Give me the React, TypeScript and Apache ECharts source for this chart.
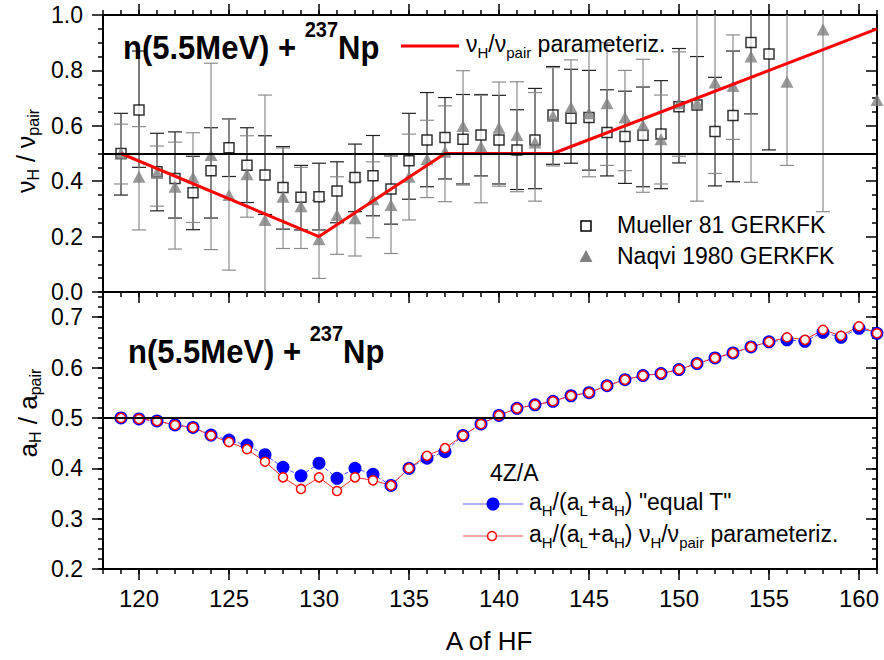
import React, { useEffect, useRef } from "react";
import * as echarts from "echarts";

const FONT = "'Liberation Sans', Arial, Helvetica, sans-serif";

// ---- upper panel: measured nu_H / nu_pair ----
const muellerA = [119, 120, 121, 122, 123, 124, 125, 126, 127, 128, 129, 130, 131, 132, 133, 134, 135, 136, 137, 138, 139, 140, 141, 142, 143, 144, 145, 146, 147, 148, 149, 150, 151, 152, 153, 154, 155];
const muellerV = [0.5, 0.657, 0.434, 0.41, 0.358, 0.438, 0.521, 0.458, 0.422, 0.377, 0.342, 0.344, 0.365, 0.413, 0.42, 0.372, 0.474, 0.549, 0.558, 0.551, 0.567, 0.549, 0.513, 0.549, 0.639, 0.627, 0.63, 0.576, 0.561, 0.566, 0.57, 0.669, 0.675, 0.579, 0.637, 0.901, 0.859];
const muellerLo = [0.35, 0.45, 0.293, 0.267, 0.225, 0.267, 0.417, 0.323, 0.28, 0.227, 0.224, 0.224, 0.25, 0.29, 0.275, 0.245, 0.335, 0.38, 0.408, 0.39, 0.419, 0.39, 0.37, 0.373, 0.461, 0.465, 0.44, 0.419, 0.392, 0.38, 0.373, 0.466, 0.5, 0.383, 0.398, 0.643, 0.513];
const muellerHi = [0.645, 0.87, 0.573, 0.578, 0.49, 0.593, 0.625, 0.593, 0.564, 0.525, 0.457, 0.465, 0.47, 0.534, 0.565, 0.495, 0.645, 0.72, 0.702, 0.713, 0.713, 0.71, 0.658, 0.735, 0.814, 0.804, 0.8, 0.73, 0.725, 0.74, 0.763, 0.879, 0.85, 0.775, 0.87, 1.16, 1.2];

const naqviA = [119, 120, 121, 122, 123, 124, 125, 126, 127, 128, 129, 130, 131, 132, 133, 134, 135, 136, 137, 138, 139, 140, 141, 142, 143, 144, 145, 146, 147, 148, 149, 150, 151, 152, 153, 154, 156, 158, 161];
const naqviV = [0.5, 0.416, 0.43, 0.38, 0.413, 0.495, 0.35, 0.425, 0.26, 0.344, 0.31, 0.19, 0.278, 0.266, 0.335, 0.314, 0.416, 0.479, 0.506, 0.599, 0.525, 0.593, 0.567, 0.54, 0.635, 0.667, 0.645, 0.681, 0.63, 0.602, 0.551, 0.681, 0.681, 0.756, 0.744, 0.85, 0.759, 0.948, 0.693];
const naqviLo = [0.39, 0.224, 0.31, 0.155, 0.251, 0.153, 0.079, 0.27, -0.19, 0.157, 0.157, 0.049, 0.136, 0.13, 0.196, 0.139, 0.26, 0.341, 0.326, 0.386, 0.322, 0.382, 0.362, 0.328, 0.455, 0.5, 0.416, 0.457, 0.438, 0.36, 0.39, 0.49, 0.328, 0.428, 0.551, 0.396, 0.457, 0.29, 0.693];
const naqviHi = [0.606, 0.597, 0.527, 0.541, 0.575, 0.826, 0.625, 0.564, 0.711, 0.52, 0.45, 0.331, 0.416, 0.4, 0.47, 0.49, 0.57, 0.62, 0.672, 0.799, 0.71, 0.758, 0.759, 0.72, 0.81, 0.838, 0.87, 0.9, 0.8, 0.84, 0.711, 0.867, 1.04, 1.08, 0.928, 1.3, 1.06, 1.6, 0.693];

// piecewise-linear nu_H / nu_pair parameterization
const paramA = [119, 130, 137, 143, 161];
const paramV = [0.5, 0.2, 0.5, 0.5, 0.95];

// ---- lower panel: a_H / a_pair ----
const modelA = [119, 120, 121, 122, 123, 124, 125, 126, 127, 128, 129, 130, 131, 132, 133, 134, 135, 136, 137, 138, 139, 140, 141, 142, 143, 144, 145, 146, 147, 148, 149, 150, 151, 152, 153, 154, 155, 156, 157, 158, 159, 160, 161];
const equalT = [0.5, 0.498, 0.494, 0.486, 0.481, 0.466, 0.456, 0.446, 0.427, 0.402, 0.385, 0.41, 0.38, 0.4, 0.388, 0.366, 0.4, 0.42, 0.433, 0.465, 0.488, 0.505, 0.519, 0.526, 0.533, 0.544, 0.55, 0.564, 0.576, 0.584, 0.588, 0.596, 0.608, 0.619, 0.629, 0.641, 0.651, 0.655, 0.652, 0.67, 0.66, 0.678, 0.668];
const nuParam = [0.5, 0.498, 0.494, 0.486, 0.481, 0.465, 0.452, 0.438, 0.413, 0.382, 0.359, 0.382, 0.355, 0.382, 0.376, 0.366, 0.4, 0.425, 0.44, 0.465, 0.488, 0.505, 0.519, 0.526, 0.533, 0.544, 0.55, 0.564, 0.576, 0.584, 0.588, 0.596, 0.608, 0.619, 0.629, 0.641, 0.651, 0.66, 0.655, 0.675, 0.663, 0.682, 0.668];

const xMajorTicks = [120, 125, 130, 135, 140, 145, 150, 155, 160];
const yLowerMajor = [0.2, 0.3, 0.4, 0.5, 0.6, 0.7];

const X_MIN = 118;
const X_MAX = 161;

const black = "#000";

function errorBarSeries(name: string, a: number[], lo: number[], hi: number[], color: string) {
  return {
    name,
    type: "custom",
    xAxisIndex: 0,
    yAxisIndex: 0,
    clip: true,
    encode: { x: 0, y: [1, 2] },
    data: a.map((v, i) => [v, lo[i], hi[i]]),
    renderItem: (_params: any, api: any) => {
      const x = api.value(0);
      const l = api.value(1);
      const h = api.value(2);
      if (h - l <= 0) return { type: "group", children: [] };
      const p1 = api.coord([x, Math.max(l, 0)]);
      const p2 = api.coord([x, Math.min(h, 1)]);
      const hw = 7;
      const st = { stroke: color, lineWidth: 1.2 };
      const children: any[] = [
        { type: "line", shape: { x1: p1[0], y1: p1[1], x2: p2[0], y2: p2[1] }, style: st },
      ];
      if (l >= 0) children.push({ type: "line", shape: { x1: p1[0] - hw, y1: p1[1], x2: p1[0] + hw, y2: p1[1] }, style: st });
      if (h <= 1) children.push({ type: "line", shape: { x1: p2[0] - hw, y1: p2[1], x2: p2[0] + hw, y2: p2[1] }, style: st });
      return { type: "group", children };
    },
  };
}

function xAxes(gridIndex: number, position: "top" | "bottom", labels: boolean) {
  const minor = {
    gridIndex,
    type: "value",
    position,
    min: X_MIN,
    max: X_MAX,
    interval: 1,
    axisLine: { show: true, onZero: false, lineStyle: { color: black, width: 2 } },
    axisTick: { show: true, inside: false, length: 5, lineStyle: { color: black, width: 1.5 } },
    axisLabel: { show: false },
    splitLine: { show: false },
  };
  const major = {
    gridIndex,
    type: "value",
    position,
    min: X_MIN,
    max: X_MAX,
    interval: 1,
    axisLine: { show: false, onZero: false },
    axisTick: { show: true, inside: false, length: 11, customValues: xMajorTicks, lineStyle: { color: black, width: 1.5 } },
    axisLabel: labels
      ? { show: true, customValues: xMajorTicks, fontSize: 24, fontFamily: FONT, color: black, margin: 17 }
      : { show: false },
    splitLine: { show: false },
  };
  return [minor, major];
}

const sub = (size: number) => ({ fontSize: size, fontFamily: FONT, fill: black, lineHeight: 13, verticalAlign: "bottom" });
const main = (size: number) => ({ fontSize: size, fontFamily: FONT, fill: black, lineHeight: 28, verticalAlign: "top" });

function titleText(x: number, y: number) {
  return {
    type: "text",
    x,
    y,
    scaleY: 1.1,
    z: 100,
    style: {
      text: "{m|n(5.5MeV) + }{s|237}{m|Np}",
      verticalAlign: "top",
      align: "left",
      rich: {
        m: { fontSize: 31, fontWeight: "bold", fontFamily: FONT, fill: black, lineHeight: 54 },
        s: { fontSize: 20, fontWeight: "bold", fontFamily: FONT, fill: black, lineHeight: 20, verticalAlign: "top" },
      },
    },
  };
}

function richText(x: number, y: number, text: string, size: number, subSize: number, extra: any = {}) {
  return {
    type: "text",
    x,
    y,
    z: 100,
    ...extra,
    style: {
      text,
      align: extra.align || "left",
      verticalAlign: "middle",
      rich: { m: main(size), s: sub(subSize) },
    },
  };
}

export default function App() {
  const ref = useRef<HTMLDivElement>(null);

  useEffect(() => {
    if (!ref.current) return;
    const chart = echarts.init(ref.current, null, { renderer: "svg" });

    const top = { left: 103, top: 15, width: 774, height: 277 };
    const bottom = { left: 103, top: 292, width: 774, height: 277 };

    const yTick = (inside: boolean, length: number) => ({
      show: true,
      inside,
      length,
      lineStyle: { color: black, width: 1.5 },
    });

    const option: any = {
      animation: false,
      backgroundColor: "#fff",
      grid: [top, bottom],
      xAxis: [...xAxes(0, "bottom", false), ...xAxes(0, "top", false), ...xAxes(1, "bottom", true)],
      yAxis: [
        // upper panel
        {
          gridIndex: 0,
          type: "value",
          position: "left",
          min: 0,
          max: 1,
          interval: 0.2,
          axisLine: { show: true, lineStyle: { color: black, width: 2 } },
          axisTick: yTick(false, 11),
          minorTick: { show: true, splitNumber: 4, length: 5, lineStyle: { color: black, width: 1.5 } },
          axisLabel: { show: true, fontSize: 23, fontFamily: FONT, color: black, margin: 20, formatter: (v: number) => v.toFixed(1) },
          splitLine: { show: false },
        },
        {
          gridIndex: 0,
          type: "value",
          position: "right",
          min: 0,
          max: 1,
          interval: 0.2,
          axisLine: { show: true, lineStyle: { color: black, width: 2 } },
          axisTick: yTick(true, 11),
          minorTick: { show: true, splitNumber: 4, length: 5, lineStyle: { color: black, width: 1.5 } },
          axisLabel: { show: false },
          splitLine: { show: false },
        },
        // lower panel, major
        {
          gridIndex: 1,
          type: "value",
          position: "left",
          min: 0.2,
          max: 0.75,
          interval: 0.1,
          axisLine: { show: true, lineStyle: { color: black, width: 2 } },
          axisTick: { ...yTick(false, 11), customValues: yLowerMajor },
          axisLabel: {
            show: true,
            customValues: yLowerMajor,
            fontSize: 23,
            fontFamily: FONT,
            color: black,
            margin: 20,
            formatter: (v: number) => v.toFixed(1),
          },
          splitLine: { show: false },
        },
        // lower panel, minor
        {
          gridIndex: 1,
          type: "value",
          position: "left",
          min: 0.2,
          max: 0.75,
          interval: 0.02,
          axisLine: { show: false },
          axisTick: yTick(false, 5),
          axisLabel: { show: false },
          splitLine: { show: false },
        },
        {
          gridIndex: 1,
          type: "value",
          position: "right",
          min: 0.2,
          max: 0.75,
          interval: 0.1,
          axisLine: { show: true, lineStyle: { color: black, width: 2 } },
          axisTick: { ...yTick(true, 11), customValues: yLowerMajor },
          axisLabel: { show: false },
          splitLine: { show: false },
        },
        {
          gridIndex: 1,
          type: "value",
          position: "right",
          min: 0.2,
          max: 0.75,
          interval: 0.02,
          axisLine: { show: false },
          axisTick: yTick(true, 5),
          axisLabel: { show: false },
          splitLine: { show: false },
        },
      ],
      series: [
        {
          name: "ref",
          type: "line",
          xAxisIndex: 0,
          yAxisIndex: 0,
          data: [],
          markLine: {
            silent: true,
            symbol: "none",
            label: { show: false },
            lineStyle: { color: black, width: 2.2, type: "solid" },
            data: [{ yAxis: 0.5 }],
          },
        },
        errorBarSeries("Mueller err", muellerA, muellerLo, muellerHi, "#222"),
        errorBarSeries("Naqvi err", naqviA, naqviLo, naqviHi, "#8c8c8c"),
        {
          name: "nu param",
          type: "line",
          xAxisIndex: 0,
          yAxisIndex: 0,
          data: paramA.map((a, i) => [a, paramV[i]]),
          symbol: "none",
          lineStyle: { color: "#ff0000", width: 3 },
        },
        {
          name: "Mueller 81 GERKFK",
          type: "scatter",
          xAxisIndex: 0,
          yAxisIndex: 0,
          data: muellerA.map((a, i) => [a, muellerV[i]]),
          symbol: "rect",
          symbolSize: 10,
          itemStyle: { color: "#fff", borderColor: black, borderWidth: 1.5 },
        },
        {
          name: "Naqvi 1980 GERKFK",
          type: "scatter",
          xAxisIndex: 0,
          yAxisIndex: 0,
          data: naqviA.map((a, i) => [a, naqviV[i]]),
          symbol: "triangle",
          symbolSize: [13, 12],
          itemStyle: { color: "#808080" },
        },
        {
          name: "ref2",
          type: "line",
          xAxisIndex: 4,
          yAxisIndex: 2,
          data: [],
          markLine: {
            silent: true,
            symbol: "none",
            label: { show: false },
            lineStyle: { color: black, width: 2.2, type: "solid" },
            data: [{ yAxis: 0.5 }],
          },
        },
        {
          name: "equal T",
          type: "line",
          xAxisIndex: 4,
          yAxisIndex: 2,
          data: modelA.map((a, i) => [a, equalT[i]]),
          symbol: "circle",
          symbolSize: 13,
          itemStyle: { color: "#0000ff" },
          lineStyle: { color: "#4d4dff", width: 1, type: [4, 2] },
        },
        {
          name: "nu param a",
          type: "line",
          xAxisIndex: 4,
          yAxisIndex: 2,
          data: modelA.map((a, i) => [a, nuParam[i]]),
          symbol: "circle",
          symbolSize: 9,
          itemStyle: { color: "#fff", borderColor: "#ff0000", borderWidth: 1.5 },
          lineStyle: { color: "#ff3030", width: 1 },
        },
      ],
      graphic: [
        titleText(123, 18),
        titleText(128, 322),
        // upper legend: parameterization line
        { type: "line", z: 100, shape: { x1: 401, y1: 46, x2: 459, y2: 46 }, style: { stroke: "#ff0000", lineWidth: 3 } },
        richText(466, 46, "{m|ν}{s|H}{m|/ν}{s|pair}{m| parameteriz.}", 23, 15),
        // upper legend: data sets
        { type: "rect", z: 100, shape: { x: 581, y: 221, width: 10, height: 10 }, style: { fill: "#fff", stroke: black, lineWidth: 1.5 } },
        { type: "text", z: 100, x: 617, y: 225, style: { text: "Mueller 81 GERKFK", fontSize: 23, fontFamily: FONT, fill: black, verticalAlign: "middle" } },
        { type: "polygon", z: 100, shape: { points: [[586, 250], [592.5, 262], [579.5, 262]] }, style: { fill: "#808080" } },
        { type: "text", z: 100, x: 617, y: 256, style: { text: "Naqvi 1980 GERKFK", fontSize: 23, fontFamily: FONT, fill: black, verticalAlign: "middle" } },
        // lower legend
        { type: "text", z: 100, x: 490, y: 473, style: { text: "4Z/A", fontSize: 23, fontFamily: FONT, fill: black, verticalAlign: "middle" } },
        { type: "line", z: 100, shape: { x1: 463, y1: 504, x2: 523, y2: 504 }, style: { stroke: "#6060ff", lineWidth: 1.2 } },
        { type: "circle", z: 101, shape: { cx: 493, cy: 504, r: 6.5 }, style: { fill: "#0000ff" } },
        richText(529, 504, '{m|a}{s|H}{m|/(a}{s|L}{m|+a}{s|H}{m|) "equal T"}', 23, 15),
        { type: "line", z: 100, shape: { x1: 463, y1: 536, x2: 523, y2: 536 }, style: { stroke: "#ff5050", lineWidth: 1.2 } },
        { type: "circle", z: 101, shape: { cx: 492, cy: 536, r: 4.5 }, style: { fill: "#fff", stroke: "#ff0000", lineWidth: 1.5 } },
        richText(529, 536, "{m|a}{s|H}{m|/(a}{s|L}{m|+a}{s|H}{m|) ν}{s|H}{m|/ν}{s|pair}{m| parameteriz.}", 23, 15),
        // axis titles
        richText(27, 151, "{m|ν}{s|H}{m| / ν}{s|pair}", 25, 16, { rotation: Math.PI / 2, align: "center" }),
        richText(29, 413, "{m|a}{s|H}{m| / a}{s|pair}", 26, 16, { rotation: Math.PI / 2, align: "center" }),
        { type: "text", z: 100, x: 489, y: 641, style: { text: "A of HF", fontSize: 26, fontFamily: FONT, fill: black, align: "center", verticalAlign: "middle" } },
      ],
    };

    chart.setOption(option);
    return () => chart.dispose();
  }, []);

  return (
    <div
      ref={ref}
      style={{ position: "absolute", left: 0, top: 0, width: 884, height: 660, background: "#fff" }}
    />
  );
}
